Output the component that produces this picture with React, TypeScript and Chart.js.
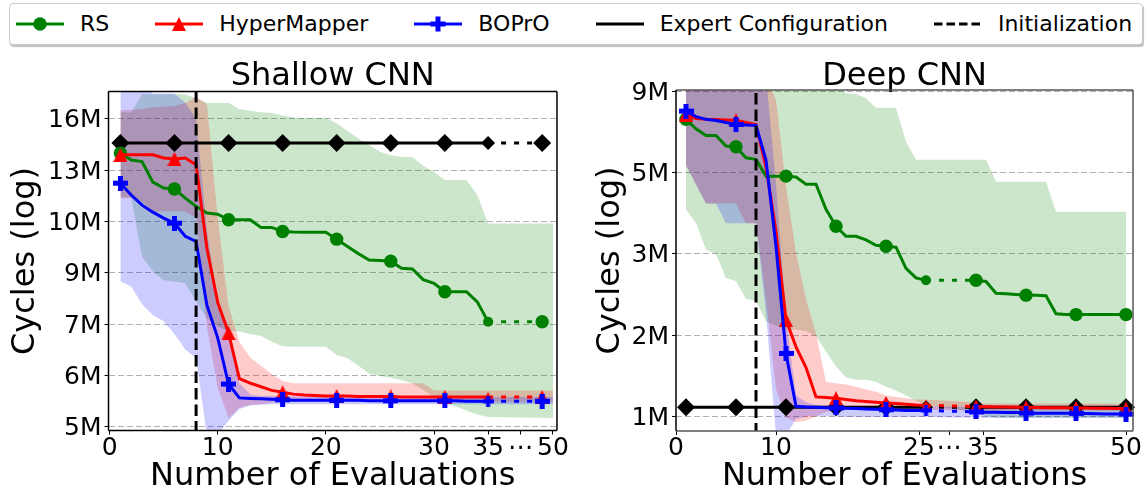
import React, { useEffect, useRef } from 'react';
import { Chart, registerables } from 'chart.js';

Chart.register(...registerables);

const FONT = "'DejaVu Sans', 'Liberation Sans', sans-serif";

// ---------------- Legend / series names ----------------
const seriesNames = ['RS', 'HyperMapper', 'BOPrO', 'Expert Configuration', 'Initialization'];
const seriesColors = ['#008000', '#ff0000', '#0000ff', '#000000', '#000000'];
const bandColors = ['rgba(0,128,0,0.2)', 'rgba(255,0,0,0.2)', 'rgba(0,0,255,0.2)'];
const initializationEval = 8;

// ---------------- Shallow CNN ----------------
const shallowEvals = [1, 2, 3, 4, 5, 6, 7, 8, 9, 10, 11, 12, 13, 14, 15, 16, 17, 18, 19, 20, 21, 22, 23, 24, 25, 26, 27, 28, 29, 30, 31, 32, 33, 34, 35, 50];
const shallowMarkerEvals = [1, 6, 11, 16, 21, 26, 31, 35, 50];
// cycles in millions
const shallowRS = [14.06, 13.7, 13.62, 12.6, 12.32, 12.28, 11.86, 11.5, 11.21, 11.16, 10.93, 10.93, 10.93, 10.62, 10.62, 10.46, 10.44, 10.43, 10.43, 10.43, 10.16, 9.88, 9.62, 9.39, 9.37, 9.35, 9.1, 9.08, 8.72, 8.6, 8.33, 8.33, 8.33, 8.02, 7.44, 7.44];
const shallowHyperMapper = [13.97, 13.97, 13.97, 13.97, 13.8, 13.75, 13.8, 13.45, 9.82, 8.0, 7.13, 6.0, 5.9, 5.82, 5.74, 5.7, 5.66, 5.64, 5.63, 5.62, 5.62, 5.62, 5.61, 5.61, 5.61, 5.61, 5.6, 5.6, 5.6, 5.6, 5.6, 5.6, 5.6, 5.6, 5.6, 5.6];
const shallowBOPrO = [12.55, 12.0, 11.55, 11.25, 11.0, 10.79, 10.27, 10.07, 7.92, 7.0, 5.88, 5.58, 5.57, 5.56, 5.55, 5.54, 5.53, 5.53, 5.53, 5.53, 5.53, 5.53, 5.53, 5.52, 5.52, 5.52, 5.52, 5.52, 5.52, 5.52, 5.52, 5.52, 5.51, 5.51, 5.51, 5.51];
const shallowExpert = 14.6;
const shallowRSUpper = [16.4, 16.4, 17.56, 17.56, 17.56, 17.56, 17.56, 17.3, 16.98, 16.98, 16.98, 16.6, 16.5, 16.4, 16.35, 16.2, 16.06, 16.06, 16.06, 16.06, 15.73, 15.3, 14.85, 14.5, 14.13, 13.95, 13.86, 13.86, 13.4, 13.1, 12.7, 12.7, 12.7, 12.0, 10.78, 10.78];
const shallowRSLower = [11.9, 11.9, 9.5, 9.0, 8.7, 8.66, 8.6, 8.03, 7.54, 7.3, 7.18, 7.17, 7.1, 7.05, 6.9, 6.78, 6.77, 6.77, 6.77, 6.77, 6.56, 6.48, 6.3, 6.12, 6.06, 6.02, 5.97, 5.9, 5.75, 5.6, 5.48, 5.4, 5.32, 5.24, 5.19, 5.17];
const shallowHMUpper = [16.55, 16.55, 16.6, 16.7, 16.77, 16.8, 16.98, 17.4, 16.9, 11.0, 7.9, 6.9, 6.5, 6.3, 6.1, 5.95, 5.9, 5.9, 5.9, 5.9, 5.9, 5.9, 5.9, 5.9, 5.9, 5.9, 5.9, 5.9, 5.9, 5.74, 5.74, 5.74, 5.74, 5.74, 5.74, 5.74];
const shallowHMLower = [11.86, 11.86, 11.7, 11.28, 11.28, 11.28, 11.28, 11.0, 7.3, 5.8, 5.17, 5.37, 5.44, 5.45, 5.48, 5.5, 5.5, 5.5, 5.5, 5.5, 5.5, 5.5, 5.5, 5.5, 5.5, 5.5, 5.5, 5.5, 5.5, 5.5, 5.5, 5.5, 5.5, 5.5, 5.5, 5.5];
const shallowBOUpper = [18.5, 18.5, 18.5, 17.6, 17.6, 17.6, 17.0, 16.0, 10.5, 8.0, 7.3, 5.9, 5.65, 5.62, 5.62, 5.62, 5.61, 5.61, 5.6, 5.6, 5.6, 5.6, 5.6, 5.6, 5.6, 5.6, 5.6, 5.6, 5.6, 5.6, 5.6, 5.6, 5.6, 5.6, 5.6, 5.6];
const shallowBOLower = [8.66, 8.5, 7.95, 7.63, 7.45, 7.1, 6.7, 6.49, 4.85, 4.85, 5.12, 5.35, 5.42, 5.44, 5.45, 5.45, 5.45, 5.45, 5.45, 5.45, 5.45, 5.45, 5.45, 5.45, 5.45, 5.45, 5.45, 5.45, 5.45, 5.45, 5.45, 5.45, 5.45, 5.45, 5.45, 5.45];
const shallowYTicks = [5, 6.07, 7.368, 8.944, 10.858, 13.181, 16];
const shallowYTickLabels = ['5M', '6M', '7M', '9M', '10M', '13M', '16M'];
const shallowXTickLabels = ['0', '10', '20', '30', '35', '\u22EF', '50'];

// ---------------- Deep CNN ----------------
const deepEvals = [1, 2, 3, 4, 5, 6, 7, 8, 9, 10, 11, 12, 13, 14, 15, 16, 17, 18, 19, 20, 21, 22, 23, 24, 25, 35, 36, 37, 38, 39, 40, 41, 42, 43, 44, 45, 46, 47, 48, 49, 50];
const deepMarkerEvals = [1, 6, 11, 16, 21, 25, 35, 40, 45, 50];
const deepRS = [7.46, 7.0, 6.69, 6.69, 6.23, 6.2, 5.75, 5.69, 5.08, 5.08, 5.08, 5.05, 4.81, 4.81, 4.06, 3.62, 3.38, 3.38, 3.3, 3.18, 3.16, 3.14, 2.72, 2.55, 2.51, 2.51, 2.49, 2.3, 2.29, 2.28, 2.27, 2.27, 2.26, 2.0, 1.99, 1.99, 1.99, 1.99, 1.99, 1.99, 1.99];
const deepHyperMapper = [7.7, 7.5, 7.46, 7.45, 7.43, 7.41, 7.3, 7.2, 5.4, 3.5, 1.92, 1.6, 1.39, 1.14, 1.135, 1.13, 1.12, 1.11, 1.105, 1.1, 1.094, 1.09, 1.085, 1.08, 1.077, 1.068, 1.066, 1.065, 1.064, 1.063, 1.062, 1.061, 1.06, 1.06, 1.059, 1.058, 1.057, 1.056, 1.055, 1.054, 1.053];
const deepBOPrO = [7.89, 7.6, 7.46, 7.4, 7.3, 7.21, 7.18, 7.16, 5.66, 3.16, 1.53, 1.07, 1.065, 1.062, 1.06, 1.058, 1.055, 1.053, 1.05, 1.048, 1.045, 1.043, 1.04, 1.04, 1.04, 1.03, 1.028, 1.027, 1.026, 1.025, 1.022, 1.021, 1.02, 1.02, 1.02, 1.02, 1.018, 1.017, 1.016, 1.015, 1.015];
const deepExpert = 1.063;
const deepRSUpper = [9.5, 9.5, 9.5, 9.5, 9.5, 9.5, 9.5, 9.5, 9.5, 9.5, 9.5, 9.5, 9.5, 9.5, 9.5, 9.5, 8.9, 8.85, 8.6, 8.07, 8.07, 8.07, 6.41, 5.68, 5.68, 5.68, 5.68, 4.89, 4.89, 4.89, 4.89, 4.89, 4.89, 3.99, 3.99, 3.99, 3.99, 3.99, 3.99, 3.99, 3.99];
const deepRSLower = [4.05, 3.7, 3.09, 3.0, 2.55, 2.5, 2.21, 2.18, 1.9, 1.85, 1.8, 1.8, 1.78, 1.72, 1.55, 1.4, 1.3, 1.28, 1.28, 1.26, 1.22, 1.19, 1.15, 1.11, 1.08, 1.03, 1.0, 0.99, 0.99, 0.99, 0.99, 0.99, 0.99, 0.99, 0.99, 0.99, 0.99, 0.99, 0.99, 0.99, 0.99];
const deepHMUpper = [10, 10, 10, 10, 10, 10, 10, 10, 10, 8.5, 4.76, 3.02, 2.21, 1.75, 1.26, 1.25, 1.24, 1.22, 1.2, 1.18, 1.15, 1.14, 1.13, 1.12, 1.12, 1.1, 1.09, 1.09, 1.09, 1.09, 1.09, 1.09, 1.09, 1.09, 1.09, 1.09, 1.09, 1.09, 1.09, 1.09, 1.09];
const deepHMLower = [5.47, 4.8, 4.22, 4.22, 4.22, 4.22, 3.69, 3.69, 2.21, 1.2, 0.99, 0.96, 0.97, 1.0, 1.03, 1.04, 1.045, 1.045, 1.045, 1.045, 1.045, 1.045, 1.045, 1.045, 1.045, 1.04, 1.04, 1.04, 1.04, 1.04, 1.04, 1.04, 1.04, 1.04, 1.04, 1.04, 1.04, 1.04, 1.04, 1.04, 1.04];
const deepBOUpper = [10, 10, 10, 10, 10, 10, 10, 10, 10, 4.8, 1.95, 1.15, 1.1, 1.08, 1.075, 1.072, 1.07, 1.07, 1.07, 1.07, 1.07, 1.07, 1.07, 1.07, 1.07, 1.065, 1.065, 1.065, 1.065, 1.065, 1.065, 1.065, 1.065, 1.065, 1.065, 1.065, 1.065, 1.065, 1.065, 1.065, 1.065];
const deepBOLower = [5.47, 4.8, 4.22, 4.22, 3.69, 3.69, 3.69, 3.69, 2.0, 0.88, 0.88, 0.98, 1.0, 1.0, 1.0, 1.0, 0.995, 0.995, 0.995, 0.995, 0.995, 0.995, 0.995, 0.995, 0.995, 0.99, 0.99, 0.99, 0.99, 0.99, 0.99, 0.99, 0.99, 0.99, 0.99, 0.99, 0.99, 0.99, 0.99, 0.99, 0.99];
const deepYTicks = [1, 1.7321, 3, 5.1962, 9];
const deepYTickLabels = ['1M', '2M', '3M', '5M', '9M'];
const deepXTickLabels = ['0', '10', '25', '\u22EF', '35', '50'];

// ---------------- helpers ----------------
function makePlus(size: number, arm: number, color: string) {
  const c = document.createElement('canvas');
  c.width = size; c.height = size;
  const g = c.getContext('2d')!;
  g.fillStyle = color;
  const a = (size - arm) / 2;
  g.fillRect(a, 0, arm, size);
  g.fillRect(0, a, size, arm);
  return c;
}
function makeTriangle(size: number, color: string) {
  const c = document.createElement('canvas');
  c.width = size; c.height = size;
  const g = c.getContext('2d')!;
  g.fillStyle = color;
  g.beginPath(); g.moveTo(size / 2, 0); g.lineTo(size, size); g.lineTo(0, size); g.closePath(); g.fill();
  return c;
}

const framePlugin = {
  id: 'frame',
  afterDraw(chart: any, _a: any, opts: any) {
    const { ctx, chartArea: a } = chart;
    ctx.save();
    ctx.lineWidth = 1.5;
    const side = (c: string, x1: number, y1: number, x2: number, y2: number) => {
      ctx.strokeStyle = c; ctx.beginPath(); ctx.moveTo(x1, y1); ctx.lineTo(x2, y2); ctx.stroke();
    };
    side(opts.top, a.left, a.top, a.right, a.top);
    side(opts.right, a.right, a.top, a.right, a.bottom);
    side(opts.bottom, a.left, a.bottom, a.right, a.bottom);
    side(opts.left, a.left, a.top, a.left, a.bottom);
    ctx.restore();
  },
};

type Spec = any;

function buildConfig(spec: Spec): any {
  const pos = spec.linePos as (e: number) => number;
  const mpos = spec.markerPos as (e: number) => number;
  const evals: number[] = spec.evals;
  const pts = (vals: number[]) => evals.map((e, i) => ({ x: pos(e), y: vals[i] }));
  const mpts = (vals: number[]) => spec.markerEvals.map((e: number) => ({ x: mpos(e), y: vals[evals.indexOf(e)] }));
  // only the segment that jumps across the axis break is dotted
  const dotted = (ctx: any) => (evals[ctx.p0DataIndex] === spec.breakEval ? [5, 8] : undefined);
  const isSmall = (ctx: any) => spec.markerEvals[ctx.dataIndex] === spec.breakEval;

  const plusBig = makePlus(15, 5, seriesColors[2]);
  const plusSmall = makePlus(11, 4, seriesColors[2]);
  const triBig = makeTriangle(14, seriesColors[1]);
  const triSmall = makeTriangle(10, seriesColors[1]);

  const band = (upper: number[], lower: number[], color: string, order: number) => [
    { data: pts(upper), fill: '+1', backgroundColor: color, borderWidth: 0, pointRadius: 0, order },
    { data: pts(lower), fill: false, borderWidth: 0, pointRadius: 0, order },
  ];
  const line = (vals: number[], color: string, order: number) => ({
    data: pts(vals), borderColor: color, borderWidth: 3, pointRadius: 0, fill: false, order,
    segment: { borderDash: dotted },
  });
  const markers = (vals: number[], color: string, style: any, rBig: number, rSmall: number, order: number) => ({
    data: mpts(vals), showLine: false, order, clip: false,
    pointStyle: style,
    pointRadius: (ctx: any) => (isSmall(ctx) ? rSmall : rBig),
    pointBackgroundColor: color, pointBorderColor: color, pointBorderWidth: 0,
  });

  const expertEvals = [evals[0], spec.breakEval, spec.resumeEval, evals[evals.length - 1]]
    .filter((e, i, arr) => arr.indexOf(e) === i);
  const expertMarkerVals = evals.map(() => spec.expert);

  const datasets: any[] = [
    ...band(spec.rsU, spec.rsL, bandColors[0], 20),
    ...band(spec.hmU, spec.hmL, bandColors[1], 19),
    ...band(spec.boU, spec.boL, bandColors[2], 18),
    {
      data: expertEvals.map((e) => ({ x: pos(e), y: spec.expert })),
      borderColor: '#000', borderWidth: 3, pointRadius: 0, fill: false, order: 10,
      segment: { borderDash: (ctx: any) => (expertEvals[ctx.p0DataIndex] === spec.breakEval ? [5, 8] : undefined) },
    },
    markers(expertMarkerVals, '#000', 'rectRot', 9, 7, 9),
    line(spec.rs, seriesColors[0], 8),
    markers(spec.rs, seriesColors[0], 'circle', 6.7, 5, 7),
    line(spec.hm, seriesColors[1], 6),
    markers(spec.hm, seriesColors[1], (ctx: any) => (isSmall(ctx) ? triSmall : triBig), 7, 5, 5),
    line(spec.bo, seriesColors[2], 4),
    markers(spec.bo, seriesColors[2], (ctx: any) => (isSmall(ctx) ? plusSmall : plusBig), 7, 5, 3),
    {
      data: [{ x: initializationEval, y: spec.yMin * 0.5 }, { x: initializationEval, y: spec.yMax * 2 }],
      borderColor: '#000', borderWidth: 3, borderDash: [11.5, 5], pointRadius: 0, fill: false, order: 0, clip: 0,
    },
  ];

  return {
    type: 'line',
    data: { datasets },
    options: {
      responsive: false,
      animation: false,
      devicePixelRatio: 1,
      events: [],
      layout: { padding: { left: 0, right: spec.rightPad, top: 0, bottom: 0 } },
      plugins: {
        legend: { display: false },
        tooltip: { enabled: false },
        title: {
          display: true, text: spec.title, fullSize: false, color: '#000',
          font: { family: FONT, size: 32, weight: 'normal', lineHeight: 0.8 },
          padding: spec.titlePad,
        },
        frame: spec.frame,
      },
      scales: {
        x: {
          type: 'linear', min: spec.xMin, max: spec.xMax,
          afterBuildTicks: (s: any) => { s.ticks = spec.xTickPos.map((v: number) => ({ value: v })); },
          afterFit: (s: any) => { s.height = spec.xHeight; },
          ticks: {
            autoSkip: false, maxRotation: 0, color: '#000', padding: 1,
            font: { family: FONT, size: 25, lineHeight: 1 },
            callback: (_v: any, i: number) => spec.xLabels[i],
          },
          grid: { display: true, drawOnChartArea: false, drawTicks: true, tickLength: 4, tickColor: '#000', tickWidth: 1 },
          border: { display: false },
          title: {
            display: true, text: 'Number of Evaluations', color: '#000',
            font: { family: FONT, size: 32, lineHeight: 1 }, padding: { top: 0, bottom: 2 },
          },
        },
        y: {
          type: 'logarithmic', min: spec.yMin, max: spec.yMax,
          afterBuildTicks: (s: any) => { s.ticks = spec.yTicks.map((v: number) => ({ value: v })); },
          afterFit: (s: any) => { s.width = spec.yWidth; },
          ticks: {
            autoSkip: false, color: '#000', padding: 3, labelOffset: 2,
            font: { family: FONT, size: 25, lineHeight: 1 },
            callback: (_v: any, i: number) => spec.yLabels[i],
          },
          grid: { display: true, drawOnChartArea: true, color: '#b0b0b0', lineWidth: 1, drawTicks: true, tickLength: 4, tickColor: '#000', tickWidth: 1 },
          border: { display: false, dash: [6, 3] },
          title: {
            display: true, text: 'Cycles (log)', color: '#000',
            font: { family: FONT, size: 32, lineHeight: 1 }, padding: { top: spec.yTitlePad, bottom: 0 },
          },
        },
      },
    },
    plugins: [framePlugin],
  };
}

const shallowSpec: Spec = {
  title: 'Shallow CNN',
  evals: shallowEvals, markerEvals: shallowMarkerEvals, breakEval: 35, resumeEval: 50,
  linePos: (e: number) => (e <= 35 ? e : 41),
  markerPos: (e: number) => (e <= 35 ? e : 40),
  rs: shallowRS, hm: shallowHyperMapper, bo: shallowBOPrO, expert: shallowExpert,
  rsU: shallowRSUpper, rsL: shallowRSLower, hmU: shallowHMUpper, hmL: shallowHMLower, boU: shallowBOUpper, boL: shallowBOLower,
  yMin: 4.934, yMax: 17.74, yTicks: shallowYTicks, yLabels: shallowYTickLabels,
  xMin: -0.1, xMax: 41.37, xTickPos: [0, 10, 20, 30, 35, 38, 41], xLabels: shallowXTickLabels,
  yTitlePad: 10, titlePad: { top: 18.1, bottom: 1.8 },
  yWidth: 108.5, xHeight: 64.5, rightPad: 7,
  frame: { top: '#000', right: '#000', bottom: '#000', left: '#000' },
};

const deepSpec: Spec = {
  title: 'Deep CNN',
  evals: deepEvals, markerEvals: deepMarkerEvals, breakEval: 25, resumeEval: 35,
  linePos: (e: number) => (e <= 25 ? e : e - 5),
  markerPos: (e: number) => (e <= 25 ? e : e - 5),
  rs: deepRS, hm: deepHyperMapper, bo: deepBOPrO, expert: deepExpert,
  rsU: deepRSUpper, rsL: deepRSLower, hmU: deepHMUpper, hmL: deepHMLower, boU: deepBOUpper, boL: deepBOLower,
  yMin: 0.905, yMax: 9.1, yTicks: deepYTicks, yLabels: deepYTickLabels,
  xMin: 0, xMax: 45.7, xTickPos: [0, 10, 24.3, 27.3, 30.7, 45], xLabels: deepXTickLabels,
  yTitlePad: 25, titlePad: { top: 18.1, bottom: 0.3 },
  yWidth: 106, xHeight: 64, rightPad: 14,
  frame: { top: '#555', right: '#555', bottom: '#555', left: '#000' },
};

function Handle({ idx }: { idx: number }) {
  const color = seriesColors[idx];
  return (
    <svg width={48} height={24} style={{ display: 'block', flex: '0 0 auto' }}>
      <line x1={0} y1={12} x2={48} y2={12} stroke={color} strokeWidth={3} strokeDasharray={idx === 4 ? '8.5 4' : undefined} />
      {idx === 0 && <circle cx={24} cy={12} r={6.7} fill={color} />}
      {idx === 1 && <polygon points="24,5 17,19 31,19" fill={color} />}
      {idx === 2 && (
        <g fill={color}>
          <rect x={16.5} y={9.5} width={15} height={5} />
          <rect x={21.5} y={4.5} width={5} height={15} />
        </g>
      )}
    </svg>
  );
}

function Legend() {
  return (
    <div
      style={{
        position: 'absolute', left: 9, top: 3, width: 1134, height: 42, boxSizing: 'border-box',
        border: '1px solid #cccccc', borderRadius: 4, background: '#fff',
        boxShadow: '1px 2px 1px rgba(0,0,0,0.25)',
        display: 'flex', alignItems: 'center', paddingLeft: 6,
        fontFamily: FONT, fontSize: 22, color: '#000', whiteSpace: 'nowrap',
      }}
    >
      {seriesNames.map((name, i) => (
        <div key={name} style={{ display: 'flex', alignItems: 'center', marginRight: i < seriesNames.length - 1 ? 46 : 0 }}>
          <Handle idx={i} />
          <span style={{ marginLeft: 16, lineHeight: '24px' }}>{name}</span>
        </div>
      ))}
    </div>
  );
}

export default function App() {
  const leftRef = useRef<HTMLCanvasElement>(null);
  const rightRef = useRef<HTMLCanvasElement>(null);
  useEffect(() => {
    Chart.defaults.font.family = FONT;
    const c1 = new Chart(leftRef.current as HTMLCanvasElement, buildConfig(shallowSpec));
    const c2 = new Chart(rightRef.current as HTMLCanvasElement, buildConfig(deepSpec));
    return () => { c1.destroy(); c2.destroy(); };
  }, []);
  return (
    <div style={{ position: 'absolute', left: 0, top: 0, width: 1147, height: 495, background: '#fff', overflow: 'hidden' }}>
      <Legend />
      <div style={{ position: 'absolute', left: 0, top: 46, width: 570, height: 449 }}>
        <canvas ref={leftRef} width={570} height={449} style={{ display: 'block', width: 570, height: 449 }} />
      </div>
      <div style={{ position: 'absolute', left: 570, top: 46, width: 577, height: 449 }}>
        <canvas ref={rightRef} width={577} height={449} style={{ display: 'block', width: 577, height: 449 }} />
      </div>
    </div>
  );
}
